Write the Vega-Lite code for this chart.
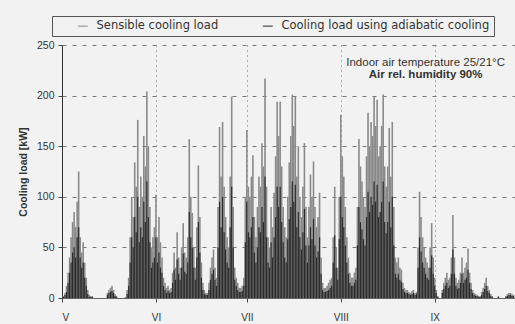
{
"$schema":"https://vega.github.io/schema/vega-lite/v6.json",
"width":453,"height":253,
"autosize":"none",
"padding":{"left":62,"top":45,"right":0,"bottom":26},
"background":"#f2f2f2",
"config":{"view":{"stroke":null},"font":"Liberation Sans",
"axis":{"labelFont":"Liberation Sans","titleFont":"Liberation Sans","labelColor":"#333","titleColor":"#333","tickColor":"#444","domainColor":"#444"},
"legend":{"labelFont":"DejaVu Sans"}},
"data":{"values":[
{"d":0.5,"s":2,"a":1},{"d":1,"s":5,"a":3},{"d":1.5,"s":12,"a":6},{"d":2,"s":25,"a":15},{"d":2.5,"s":40,"a":25},{"d":3,"s":60,"a":35},{"d":3.5,"s":75,"a":45},{"d":4,"s":85,"a":50},{"d":4.5,"s":70,"a":40},{"d":5,"s":95,"a":60},{"d":5.5,"s":125,"a":70},{"d":6,"s":60,"a":40},{"d":6.5,"s":45,"a":30},{"d":7,"s":55,"a":35},{"d":7.5,"s":35,"a":20},{"d":8,"s":20,"a":12},{"d":8.5,"s":8,"a":4},{"d":9,"s":3,"a":1},{"d":9.5,"s":2,"a":1},{"d":10,"s":2,"a":1},
{"d":15,"s":5,"a":3},{"d":15.5,"s":8,"a":5},{"d":16,"s":10,"a":6},{"d":16.5,"s":12,"a":7},{"d":17,"s":8,"a":5},{"d":17.5,"s":4,"a":2},{"d":18,"s":2,"a":1},
{"d":21,"s":1,"a":0},{"d":21.5,"s":8,"a":4},{"d":22,"s":20,"a":12},{"d":22.5,"s":60,"a":35},{"d":23,"s":100,"a":60},{"d":23.5,"s":80,"a":50},{"d":24,"s":134,"a":80},{"d":24.5,"s":110,"a":65},{"d":25,"s":176,"a":100},{"d":25.5,"s":90,"a":55},{"d":26,"s":120,"a":70},{"d":26.5,"s":100,"a":60},{"d":27,"s":160,"a":95},{"d":27.5,"s":130,"a":75},{"d":28,"s":204,"a":115},{"d":28.5,"s":150,"a":80},{"d":29,"s":90,"a":55},{"d":29.5,"s":50,"a":30},{"d":30,"s":60,"a":35},{"d":30.5,"s":70,"a":40},
{"d":31,"s":102,"a":60},{"d":31.5,"s":60,"a":35},{"d":32,"s":80,"a":45},{"d":32.5,"s":55,"a":30},{"d":33,"s":40,"a":25},{"d":33.5,"s":20,"a":12},{"d":34,"s":15,"a":8},{"d":34.5,"s":10,"a":5},{"d":35,"s":12,"a":7},{"d":35.5,"s":8,"a":5},{"d":36,"s":10,"a":6},{"d":36.5,"s":25,"a":15},{"d":37,"s":45,"a":28},{"d":37.5,"s":30,"a":18},{"d":38,"s":65,"a":38},{"d":38.5,"s":40,"a":24},{"d":39,"s":30,"a":18},{"d":39.5,"s":50,"a":30},{"d":40,"s":74,"a":44},{"d":40.5,"s":45,"a":26},{"d":41,"s":40,"a":24},{"d":41.5,"s":60,"a":35},{"d":42,"s":157,"a":85},{"d":42.5,"s":100,"a":60},{"d":43,"s":84,"a":50},{"d":43.5,"s":50,"a":30},{"d":44,"s":30,"a":18},{"d":44.5,"s":70,"a":40},{"d":45,"s":131,"a":75},{"d":45.5,"s":80,"a":45},{"d":46,"s":35,"a":20},{"d":46.5,"s":15,"a":8},{"d":47,"s":8,"a":4},{"d":47.5,"s":5,"a":3},{"d":48,"s":5,"a":3},{"d":48.5,"s":15,"a":8},{"d":49,"s":30,"a":18},{"d":49.5,"s":40,"a":24},{"d":50,"s":48,"a":28},{"d":50.5,"s":30,"a":18},{"d":51,"s":20,"a":12},{"d":51.5,"s":90,"a":50},{"d":52,"s":169,"a":95},{"d":52.5,"s":120,"a":70},{"d":53,"s":174,"a":100},{"d":53.5,"s":110,"a":65},{"d":54,"s":80,"a":48},{"d":54.5,"s":60,"a":35},{"d":55,"s":50,"a":30},{"d":55.5,"s":120,"a":70},{"d":56,"s":199,"a":110},{"d":56.5,"s":90,"a":50},{"d":57,"s":30,"a":18},{"d":57.5,"s":20,"a":12},{"d":58,"s":15,"a":8},{"d":58.5,"s":10,"a":6},{"d":59,"s":10,"a":6},{"d":59.5,"s":12,"a":7},{"d":60,"s":20,"a":12},{"d":60.5,"s":100,"a":55},
{"d":61,"s":166,"a":95},{"d":61.5,"s":110,"a":65},{"d":62,"s":100,"a":60},{"d":62.5,"s":120,"a":70},{"d":63,"s":141,"a":80},{"d":63.5,"s":80,"a":45},{"d":64,"s":60,"a":35},{"d":64.5,"s":90,"a":50},{"d":65,"s":120,"a":70},{"d":65.5,"s":110,"a":65},{"d":66,"s":153,"a":90},{"d":66.5,"s":130,"a":75},{"d":67,"s":217,"a":120},{"d":67.5,"s":110,"a":60},{"d":68,"s":60,"a":35},{"d":68.5,"s":50,"a":30},{"d":69,"s":90,"a":55},{"d":69.5,"s":70,"a":40},{"d":70,"s":104,"a":60},{"d":70.5,"s":140,"a":80},{"d":71,"s":194,"a":110},{"d":71.5,"s":160,"a":90},{"d":72,"s":194,"a":110},{"d":72.5,"s":130,"a":75},{"d":73,"s":90,"a":55},{"d":73.5,"s":70,"a":40},{"d":74,"s":60,"a":35},{"d":74.5,"s":100,"a":58},{"d":75,"s":134,"a":78},{"d":75.5,"s":160,"a":90},{"d":76,"s":201,"a":115},{"d":76.5,"s":170,"a":95},{"d":77,"s":199,"a":112},{"d":77.5,"s":120,"a":70},{"d":78,"s":150,"a":85},{"d":78.5,"s":100,"a":60},{"d":79,"s":80,"a":48},{"d":79.5,"s":110,"a":65},{"d":80,"s":153,"a":88},{"d":80.5,"s":90,"a":52},{"d":81,"s":60,"a":35},{"d":81.5,"s":90,"a":52},{"d":82,"s":122,"a":70},{"d":82.5,"s":100,"a":58},{"d":83,"s":135,"a":78},{"d":83.5,"s":90,"a":52},{"d":84,"s":70,"a":40},{"d":84.5,"s":80,"a":46},{"d":85,"s":104,"a":60},{"d":85.5,"s":40,"a":24},{"d":86,"s":15,"a":8},{"d":86.5,"s":10,"a":6},{"d":87,"s":10,"a":6},{"d":87.5,"s":12,"a":7},{"d":88,"s":15,"a":8},{"d":88.5,"s":18,"a":10},{"d":89,"s":20,"a":12},{"d":89.5,"s":60,"a":35},{"d":90,"s":110,"a":62},{"d":90.5,"s":50,"a":30},{"d":91,"s":30,"a":18},{"d":91.5,"s":100,"a":58},
{"d":92,"s":181,"a":100},{"d":92.5,"s":140,"a":80},{"d":93,"s":120,"a":70},{"d":93.5,"s":90,"a":52},{"d":94,"s":60,"a":35},{"d":94.5,"s":40,"a":24},{"d":95,"s":25,"a":15},{"d":95.5,"s":20,"a":12},{"d":96,"s":20,"a":12},{"d":96.5,"s":25,"a":15},{"d":97,"s":30,"a":18},{"d":97.5,"s":90,"a":52},{"d":98,"s":157,"a":90},{"d":98.5,"s":130,"a":75},{"d":99,"s":115,"a":68},{"d":99.5,"s":100,"a":58},{"d":100,"s":90,"a":52},{"d":100.5,"s":140,"a":80},{"d":101,"s":183,"a":105},{"d":101.5,"s":150,"a":85},{"d":102,"s":174,"a":100},{"d":102.5,"s":160,"a":92},{"d":103,"s":199,"a":115},{"d":103.5,"s":170,"a":95},{"d":104,"s":196,"a":112},{"d":104.5,"s":140,"a":80},{"d":105,"s":150,"a":85},{"d":105.5,"s":170,"a":95},{"d":106,"s":201,"a":115},{"d":106.5,"s":130,"a":75},{"d":107,"s":110,"a":64},{"d":107.5,"s":130,"a":75},{"d":108,"s":168,"a":95},{"d":108.5,"s":120,"a":70},{"d":109,"s":174,"a":100},{"d":109.5,"s":90,"a":52},{"d":110,"s":40,"a":24},{"d":110.5,"s":35,"a":20},{"d":111,"s":40,"a":24},{"d":111.5,"s":30,"a":18},{"d":112,"s":28,"a":16},{"d":112.5,"s":15,"a":9},{"d":113,"s":10,"a":6},{"d":113.5,"s":8,"a":5},{"d":114,"s":8,"a":5},{"d":114.5,"s":6,"a":4},{"d":115,"s":5,"a":3},{"d":115.5,"s":7,"a":4},{"d":116,"s":8,"a":5},{"d":116.5,"s":5,"a":3},{"d":117,"s":6,"a":4},{"d":117.5,"s":50,"a":30},{"d":118,"s":105,"a":60},{"d":118.5,"s":80,"a":46},{"d":119,"s":60,"a":35},{"d":119.5,"s":50,"a":30},{"d":120,"s":40,"a":24},{"d":120.5,"s":35,"a":20},{"d":121,"s":30,"a":18},{"d":121.5,"s":50,"a":30},{"d":122,"s":74,"a":42},{"d":122.5,"s":40,"a":24},
{"d":123,"s":20,"a":12},{"d":123.5,"s":8,"a":5},{"d":124,"s":2,"a":1},{"d":125.5,"s":8,"a":5},{"d":126,"s":15,"a":9},{"d":126.5,"s":20,"a":12},{"d":127,"s":25,"a":15},{"d":127.5,"s":18,"a":10},{"d":128,"s":20,"a":12},{"d":128.5,"s":40,"a":24},{"d":129,"s":82,"a":48},{"d":129.5,"s":40,"a":24},{"d":130,"s":20,"a":12},{"d":130.5,"s":15,"a":9},{"d":131,"s":18,"a":10},{"d":131.5,"s":25,"a":15},{"d":132,"s":40,"a":24},{"d":132.5,"s":25,"a":15},{"d":133,"s":30,"a":18},{"d":133.5,"s":35,"a":20},{"d":134,"s":49,"a":28},{"d":134.5,"s":25,"a":15},{"d":135,"s":15,"a":9},{"d":135.5,"s":8,"a":5},{"d":136,"s":5,"a":3},{"d":136.5,"s":4,"a":2},{"d":137,"s":3,"a":2},{"d":137.5,"s":2,"a":1},{"d":138,"s":2,"a":1},{"d":138.5,"s":6,"a":3},{"d":139,"s":10,"a":6},{"d":139.5,"s":15,"a":9},{"d":140,"s":20,"a":12},{"d":140.5,"s":12,"a":7},{"d":141,"s":8,"a":5},{"d":141.5,"s":4,"a":2},{"d":142,"s":2,"a":1},{"d":144,"s":2,"a":1},{"d":146.5,"s":2,"a":1},{"d":147,"s":4,"a":2},{"d":147.5,"s":5,"a":3},{"d":148,"s":5,"a":3},{"d":148.5,"s":4,"a":2},{"d":149,"s":3,"a":2}
]},
"layer":[
{"mark":{"type":"rule","strokeWidth":1.6},
"encoding":{
"x":{"field":"d","type":"quantitative","scale":{"domain":[0,149.5],"nice":false,"zero":false},
"axis":{"title":null,"values":[0,31,61,92,123],"labelExpr":"datum.value==0?'V':datum.value==31?'VI':datum.value==61?'VII':datum.value==92?'VIII':'IX'","grid":true,"gridDash":[1,4],"gridColor":"#666","gridWidth":1,"tickSize":4,"labelPadding":10,"labelFontSize":10,"domainColor":"#666"}},
"y":{"field":"s","type":"quantitative","scale":{"domain":[0,250],"nice":false},
"axis":{"title":"Cooling load [kW]","values":[0,50,100,150,200,250],"grid":true,"gridDash":[4,6],"gridColor":"#777","tickSize":4,"labelPadding":4,"labelFontSize":10.5,"titleFontSize":10.5,"titleFontWeight":"bold","titlePadding":8,"domainColor":"#333"}},
"y2":{"datum":0},
"color":{"datum":"Sensible cooling load","type":"nominal","scale":{"domain":["Sensible cooling load","Cooling load using adiabatic cooling"],"range":["#8a8a8a","#2b2b2b"]},
"legend":{"title":null,"orient":"none","legendX":-10,"legendY":-29,"direction":"horizontal","strokeColor":"#555","padding":4,"symbolType":"stroke","symbolStrokeWidth":1,"symbolSize":100,"symbolOffset":21,"labelOffset":8,"labelFontSize":11.5,"labelLimit":400,"labelColor":"#333","columnPadding":22,"labelExpr":"datum.label=='Cooling load using adiabatic cooling'?datum.label+'\u00a0\u00a0\u00a0\u00a0\u00a0\u00a0\u00a0\u00a0\u00a0\u00a0':datum.label"}}
}},
{"mark":{"type":"rule","strokeWidth":1.2},
"encoding":{"x":{"field":"d","type":"quantitative"},"y":{"field":"a","type":"quantitative"},"y2":{"datum":0},
"color":{"datum":"Cooling load using adiabatic cooling","type":"nominal"}}},
{"data":{"values":[{"d":120,"v":232,"t":"Indoor air temperature  25/21°C"}]},
"mark":{"type":"text","fontSize":11.5,"color":"#333","align":"center","baseline":"middle"},
"encoding":{"x":{"field":"d","type":"quantitative"},"y":{"field":"v","type":"quantitative"},"text":{"field":"t"}}},
{"data":{"values":[{"d":120,"v":220,"t":"Air rel. humidity 90%"}]},
"mark":{"type":"text","fontSize":11.5,"fontWeight":"bold","color":"#333","align":"center","baseline":"middle"},
"encoding":{"x":{"field":"d","type":"quantitative"},"y":{"field":"v","type":"quantitative"},"text":{"field":"t"}}}
]
}
